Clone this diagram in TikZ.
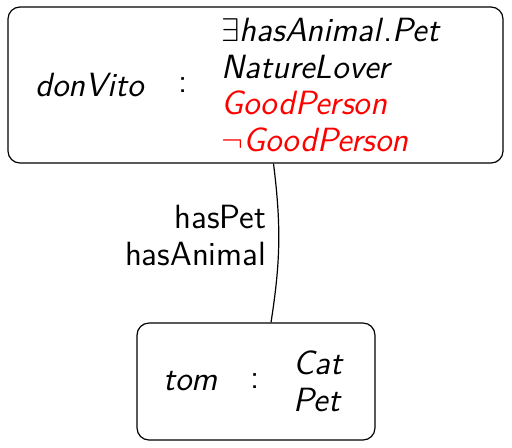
\documentclass[tikz,border=0pt]{standalone}
\usepackage{amsmath}
\usepackage{tikz}

\tikzset{
  abox/.style={draw, rounded corners=4pt, inner sep=0pt},
  lbl/.style={font=\sffamily\fontsize{11.2}{12.3}\selectfont, inner sep=0pt},
}
\newcommand{\cn}[1]{\textit{#1}}

\begin{document}
\begin{tikzpicture}[x={(0.3333pt,0)}, y={(0,-0.3333pt)}]
  \useasboundingbox (0,0) rectangle (512,447);
  % individuals
  \node[abox, minimum width=165pt, minimum height=52pt] (dv) at (255.5,85) {};
  \node[abox, minimum width=79.3pt, minimum height=39pt] (tm) at (256,381.5) {};
  % assertions of donVito
  \node[lbl, anchor=west] (dvname) at (35,85) {\cn{donVito}};
  \node[lbl] (dvcolon) at (183,85) {:};
  \node[lbl, anchor=west, align=left] (dvtypes) at (221,85) {%
    $\exists$\cn{hasAnimal}\/.\cn{Pet}\\
    \cn{NatureLover}\\
    \textcolor{red}{\cn{GoodPerson}}\\
    \textcolor{red}{$\neg$\cn{GoodPerson}}};
  % assertions of tom
  \node[lbl, anchor=west] (tmname) at (163,381) {\cn{tom}};
  \node[lbl] (tmcolon) at (255,381) {:};
  \node[lbl, anchor=west, align=left] (tmtypes) at (293,381) {\cn{Cat}\\\cn{Pet}};
  % role edge
  \draw ([xshift=6pt]dv.south) to[bend left=8]
    node[lbl, pos=0.45, left=4pt, align=right] (edge) {hasPet\\hasAnimal} ([xshift=5pt]tm.north);
\end{tikzpicture}
\end{document}
